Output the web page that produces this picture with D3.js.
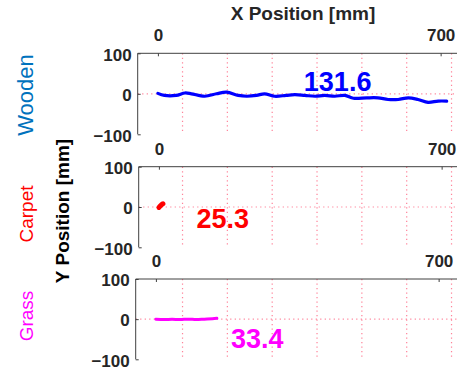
<!DOCTYPE html>
<html>
<head>
<meta charset="utf-8">
<script src="https://cdn.jsdelivr.net/npm/d3@7"></script>
<style>
html,body{margin:0;padding:0;background:#fff;}
svg{display:block;font-family:"Liberation Sans",Arial,sans-serif;}
</style>
</head>
<body>
<svg id="chart" width="457" height="371"></svg>
<script>
// ---- data ----
const surfaces = ["Wooden", "Carpet", "Grass"];
const scores = [131.6, 25.3, 33.4];
const xTickValues = [0, 700];
const yTickValues = [100, 0, -100];
const gridXValues = [61, 172, 283, 394, 505, 616, 727];

const woodenX = [0,16,45,67,83,116,145,170,199,220,244,264,289,317,339,364,389,413,438,463,484,517,545,570,595,620,644,669,694,715];
const woodenY = [1,-4,-4,2,0,-6,0,4,-4,-6,-4,0,-6,-4,-2,-4,-6,-4,-6,-4,-11,-10,-10,-14,-14,-10,-14,-21,-18,-18];
const carpetX = [0,2,4,6,8,10];
const carpetY = [-1,1,3,5,7,8];
const grassX = [0,20,40,60,80,100,120,140,151];
const grassY = [0,-1,-0.5,-1,0,-1,0,1,2];

const series = [
  {x: woodenX, y: woodenY},
  {x: carpetX, y: carpetY},
  {x: grassX, y: grassY}
];

// ---- styles / layout ----
const lineColors = ["#0000ff", "#ff0000", "#ff00ff"];
const labelColors = ["#0072BD", "#ff0000", "#ff00ff"];
const labelSizes = [22, 19, 19];
const lineWidths = [3.2, 5, 3];
const panelTop = [53.3, 166.7, 279];
const panelBottom = [134.3, 247.3, 359.3];
const panelLeft = [137.7, 138.7, 135.7];
const scoreAnchor = [[445, 6.7], [158, -52], [251, -72]]; // in data units (x mm, baseline y mm)
const sideLabelY = [95, 214, 316];
const axisColor = "#404040";
const textColor = "#262626";
const gridColor = "#ff5a78";

const svg = d3.select("#chart");
const W = 457;

// shared grid scale (pixel grid fixed like panel 1)
const gridScale = d3.scaleLinear().domain([-50, 780]).range([panelLeft[0], panelLeft[0] + 830 * 0.4039]);

surfaces.forEach((name, i) => {
  const x = d3.scaleLinear().domain([-50, 780]).range([panelLeft[i], panelLeft[i] + 830 * 0.4039]);
  const y = d3.scaleLinear().domain([-100, 100]).range([panelBottom[i], panelTop[i]]);
  const g = svg.append("g");

  // vertical grid
  g.selectAll(".vg").data(gridXValues).enter().append("line")
    .attr("x1", d => gridScale(d)).attr("x2", d => gridScale(d))
    .attr("y1", y(100)).attr("y2", y(-100))
    .attr("stroke", gridColor).attr("stroke-width", 1.2)
    .attr("stroke-dasharray", "1.2,3.3").attr("opacity", 0.75);
  // horizontal grid at 0
  g.append("line")
    .attr("x1", x(-50)).attr("x2", W)
    .attr("y1", y(0)).attr("y2", y(0))
    .attr("stroke", gridColor).attr("stroke-width", 1.2)
    .attr("stroke-dasharray", "1.2,3.3").attr("opacity", 0.75);

  // top axis
  const topAxis = d3.axisTop(x).tickValues(xTickValues).tickSize(-3).tickPadding(12).tickFormat(d3.format("d"));
  const ta = g.append("g").attr("transform", `translate(0,${y(100)})`).call(topAxis);
  ta.select(".domain").attr("d", `M${x(-50)},0H${W + 20}`).attr("stroke", axisColor);
  ta.selectAll(".tick line").attr("stroke", axisColor);
  ta.selectAll(".tick text").attr("fill", textColor).attr("font-size", 17).attr("font-weight", "bold")
    .attr("font-family", "Liberation Sans, Arial, sans-serif");

  // left axis
  const leftAxis = d3.axisLeft(y).tickValues(yTickValues).tickSize(-3).tickPadding(6).tickFormat(d3.format("d"));
  const la = g.append("g").attr("transform", `translate(${x(-50)},0)`).call(leftAxis);
  la.select(".domain").attr("d", `M0,${y(100)}V${y(-100)}`).attr("stroke", axisColor);
  la.selectAll(".tick line").attr("stroke", axisColor);
  la.selectAll(".tick text").attr("fill", textColor).attr("font-size", 17).attr("font-weight", "bold")
    .attr("font-family", "Liberation Sans, Arial, sans-serif").attr("dy", "0.4em");

  // trajectory
  const s = series[i];
  const pts = s.x.map((v, k) => [v, s.y[k]]);
  g.append("path")
    .datum(pts)
    .attr("d", d3.line().x(d => x(d[0])).y(d => y(d[1])).curve(d3.curveCatmullRom))
    .attr("fill", "none").attr("stroke", lineColors[i])
    .attr("stroke-width", lineWidths[i]).attr("stroke-linejoin", "round").attr("stroke-linecap", "round");

  // score text
  g.append("text")
    .attr("x", x(scoreAnchor[i][0])).attr("y", y(scoreAnchor[i][1]))
    .attr("text-anchor", "middle").attr("font-size", 27).attr("font-weight", "bold")
    .attr("fill", lineColors[i]).text(scores[i]);

  // side label
  svg.append("text")
    .attr("transform", `translate(33,${sideLabelY[i]}) rotate(-90)`)
    .attr("text-anchor", "middle").attr("font-size", labelSizes[i])
    .attr("fill", labelColors[i]).text(name);
});

// titles
svg.append("text").attr("x", 303).attr("y", 20).attr("text-anchor", "middle")
  .attr("font-size", 19).attr("font-weight", "bold").attr("fill", textColor).text("X Position [mm]");
svg.append("text").attr("transform", "translate(69,211) rotate(-90)").attr("text-anchor", "middle")
  .attr("font-size", 19).attr("font-weight", "bold").attr("fill", "#000").text("Y Position [mm]");
</script>
</body>
</html>
